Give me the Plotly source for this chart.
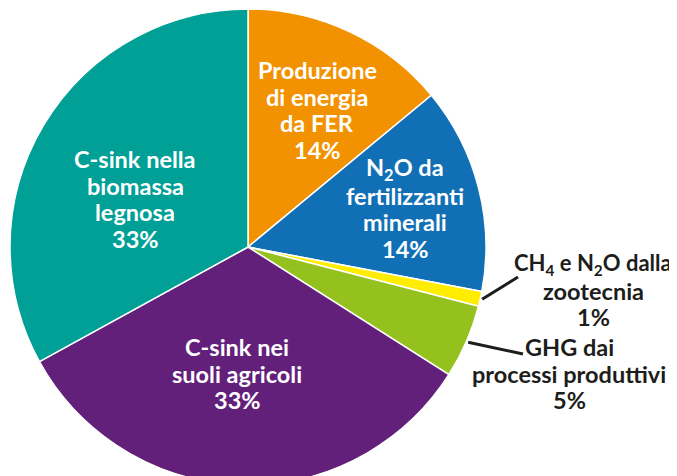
import math
import plotly.graph_objects as go

# ---- data ----
labels = ["Produzione di energia da FER", "N2O da fertilizzanti minerali",
          "CH4 e N2O dalla zootecnia", "GHG dai processi produttivi",
          "C-sink nei suoli agricoli", "C-sink nella biomassa legnosa"]
label_lines = [["Produzione", "di energia", "da FER"],
               ["N<sub>2</sub>O da", "fertilizzanti", "minerali"],
               ["CH<sub>4</sub> e N<sub>2</sub>O dalla", "zootecnia"],
               ["GHG dai", "processi produttivi"],
               ["C-sink nei", "suoli agricoli"],
               ["C-sink nella", "biomassa", "legnosa"]]
values = [14, 14, 1, 5, 33, 33]
colors = ["#F39200", "#1170B5", "#FFED00", "#95C11F", "#63207B", "#00A096"]

# ---- layout geometry (pixels, page has an 8px body margin) ----
OFF = 8
W, H = 669, 478
cx, cy, R = 248 - OFF, 247 - OFF, 238
LINE = 26.5
FS = 23.5

# label block centers (screen pixels) and whether outside
label_pos = [(317, 110), (405, 209), (593, 290.5), (569, 373.5), (237, 373.5), (135, 199)]
outside = [False, False, True, True, False, False]
leader_end = {2: (518, 277), 3: (523, 354)}

fig = go.Figure(go.Pie(
    labels=labels, values=values, sort=False, direction="clockwise", rotation=0,
    marker=dict(colors=colors, line=dict(color="white", width=1.5)),
    textinfo="none", hoverinfo="label+percent",
    domain=dict(x=[(cx - R) / W, (cx + R) / W], y=[0, 1]),
))

def px2paper(x, y):
    return x / W, 1 - y / H

total = sum(values)
cum = 0
annotations = []
shapes = []
for i, v in enumerate(values):
    mid = (cum + v / 2) / total * 2 * math.pi
    cum += v
    lines = label_lines[i] + [f"{round(v / total * 100)}%"]
    n = len(lines)
    lx, ly = label_pos[i]
    for k, line in enumerate(lines):
        yy = ly + (k - (n - 1) / 2) * LINE
        ax_, ay_ = px2paper(lx - OFF, yy - OFF)
        size = FS - 1.5 if "<sub>" in line and outside[i] else FS
        annotations.append(dict(
            x=ax_, y=ay_, xref="paper", yref="paper", text=line, showarrow=False,
            xanchor="center", yanchor="middle", align="center",
            font=dict(family="Lato", size=size, weight="bold",
                      color="#1d1d1b" if outside[i] else "white"),
        ))
    if outside[i]:
        sx = cx + R * 1.008 * math.sin(mid)
        sy = cy - R * 1.008 * math.cos(mid)
        ex, ey = leader_end[i]
        x0, y0 = px2paper(sx, sy)
        x1, y1 = px2paper(ex - OFF, ey - OFF)
        shapes.append(dict(type="line", xref="paper", yref="paper",
                           x0=x0, y0=y0, x1=x1, y1=y1,
                           line=dict(color="#1d1d1b", width=3)))

fig.update_layout(
    width=W, height=H, margin=dict(l=0, r=0, t=0, b=0),
    showlegend=False, paper_bgcolor="white", plot_bgcolor="white",
    annotations=annotations, shapes=shapes,
)
fig.write_html("out.html")
